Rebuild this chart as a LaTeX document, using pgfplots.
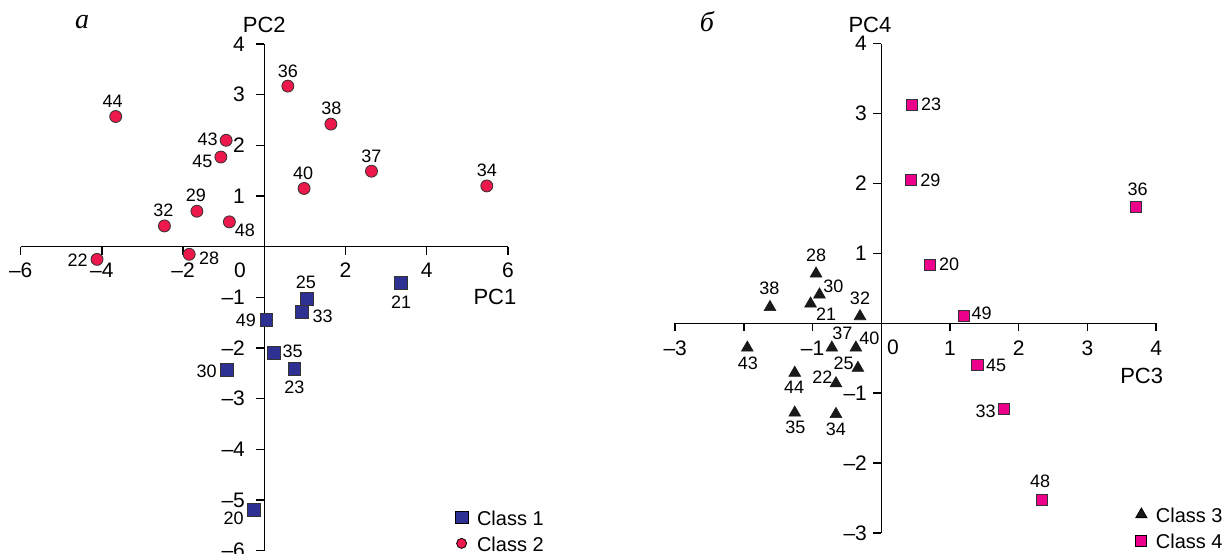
\documentclass[border=0pt]{standalone}
\usepackage{fontspec}
\setmainfont{Liberation Sans}
\newfontfamily\panelfont{Liberation Serif}
\usepackage{pgfplots}
\usepackage{pgfplotstable}
\pgfplotsset{compat=1.18}

\definecolor{cblue}{RGB}{46,49,146}
\definecolor{cred}{RGB}{237,24,75}
\definecolor{cmag}{RGB}{236,0,140}

% PC1/PC2 scores: x y label, label offset (pt)
\pgfplotstableread{
x y lbl dx dy
3.37 -0.71 21 0 -10
1.05 -1.03 25 -0.5 8.2
0.93 -1.28 33 10.3 -2.2
0.05 -1.45 49 -10.2 -0.3
0.24 -2.10 35 9.3 0.8
0.74 -2.41 23 0 -9.3
-0.93 -2.43 30 -10 -0.5
-0.25 -5.20 20 -10.3 -4.2
}\classone
\pgfplotstableread{
x y lbl dx dy
0.58 3.17 36 0 7.6
1.64 2.42 38 0.3 8
2.64 1.49 37 0 7.6
5.48 1.20 34 0 7.8
0.98 1.15 40 -0.5 7.8
-3.66 2.57 44 -1.5 7.6
-0.94 2.10 43 -9.3 0.5
-1.07 1.77 45 -9.2 -2
-1.66 0.70 29 -0.5 7.8
-2.46 0.41 32 -0.5 8
-0.86 0.49 48 7.8 -4.2
-4.12 -0.25 22 -9.7 -0.3
-1.85 -0.15 28 10 -2
}\classtwo
% PC3/PC4 scores
\pgfplotstableread{
x y lbl dx dy
-0.95 0.71 28 0 9
-0.90 0.41 30 7 4
-1.03 0.28 21 7.8 -5.2
-1.62 0.23 38 -0.3 9.3
-0.31 0.10 32 0 9
-1.95 -0.35 43 0.3 -7.7
-0.72 -0.35 37 5.3 7
-0.37 -0.35 40 6.8 4.8
-0.34 -0.64 25 -7.2 2.2
-0.66 -0.86 22 -6.8 3.2
-1.26 -0.71 44 -0.3 -7.2
-1.26 -1.28 35 0.3 -7.3
-0.66 -1.30 34 0 -7.5
}\classthree
\pgfplotstableread{
x y lbl dx dy
0.44 3.13 23 9.8 0
0.43 2.05 29 9.8 0
0.71 0.84 20 9.5 0
3.71 1.67 36 0.7 8.6
1.20 0.11 49 9 1.2
1.40 -0.59 45 9.3 -0.3
1.79 -1.22 33 -9.3 -1.3
2.34 -2.53 48 -1 9.5
}\classfour

\pgfplotsset{
  pca/.style={
    axis lines=middle, clip=false, anchor=origin,
    axis line style={line width=0.75pt, -},
    tick style={line width=0.75pt, black},
    major tick length=4pt, tick align=outside,
    ticklabel style={font=\fontsize{10.5}{12}\selectfont, inner sep=0pt},
    legend style={draw=none, fill=none, inner sep=0pt, column sep=3.5pt, row sep=3.1pt,
      font=\fontsize{10}{12.5}\selectfont,
      nodes={inner sep=1pt, text height=7.9pt, text depth=0pt}},
    legend cell align=left,
    legend image code/.code={\draw[##1] plot coordinates {(0pt,0pt)};},
  },
  ptlabels/.style={
    nodes near coords, point meta=explicit symbolic,
    visualization depends on={\thisrow{dx}\as\ldx},
    visualization depends on={\thisrow{dy}\as\ldy},
    every node near coord/.append style={anchor=center, inner sep=0pt,
      xshift=\ldx pt, yshift=\ldy pt, font=\fontsize{9}{10}\selectfont, black},
  },
}

\begin{document}
\begin{tikzpicture}
\path[use as bounding box] (0,0) rectangle (613.5pt,276.5pt);

% panel a: PC1 vs PC2
\begin{axis}[pca,
  at={(132.15pt,153.15pt)},
  x=20.3pt, y=25.33pt,
  xmin=-6, xmax=6, ymin=-6, ymax=4,
  xtick={-6,-4,-2,2,4,6}, xticklabels={–6,–4,–2,2,4,6},
  ytick={-6,-5,-4,-3,-2,-1,1,2,3,4}, yticklabels={–6,–5,–4,–3,–2,–1,1,2,3,4},
  xticklabel style={anchor=north, yshift=-4pt},
  yticklabel style={anchor=east, xshift=-5.5pt},
  legend style={at={(axis description cs:0.891,0.086)}, anchor=north west},
]
\addlegendimage{only marks, mark=square*, mark size=3.2pt, mark options={fill=cblue, draw=black, line width=0.4pt}}
\addlegendentry{Class 1}
\addlegendimage{only marks, mark=*, mark size=2.5pt, mark options={fill=cred, draw=black, line width=0.4pt}}
\addlegendentry{Class 2}
\addplot[only marks, mark=square*, mark size=3.2pt, mark options={fill=cblue, draw=black!80, line width=0.4pt}, ptlabels, forget plot]
  table[x=x, y=y, meta=lbl] {\classone};
\addplot[only marks, mark=*, mark size=3pt, mark options={fill=cred, draw=black!80, line width=0.4pt}, ptlabels, forget plot]
  table[x=x, y=y, meta=lbl] {\classtwo};
\node[font=\fontsize{11}{12}\selectfont] at (axis cs:0,4.377) {PC2};
\node[font=\fontsize{11}{12}\selectfont] at (axis cs:5.68,-0.99) {PC1};
\node[font=\fontsize{10.5}{12}\selectfont] at (axis cs:-0.60,-0.46) {0};
\node[font=\panelfont\itshape\fontsize{14}{16}\selectfont] at (axis cs:-4.49,4.44) {a};
\end{axis}

% panel b: PC3 vs PC4
\begin{axis}[pca,
  at={(440.65pt,114.85pt)},
  x=34.35pt, y=34.95pt,
  xmin=-3, xmax=4, ymin=-3, ymax=4,
  xtick={-3,-2,-1,1,2,3,4}, xticklabels={–3,,–1,1,2,3,4},
  ytick={-3,-2,-1,1,2,3,4}, yticklabels={–3,–2,–1,1,2,3,4},
  xticklabel style={anchor=north, yshift=-4.5pt},
  yticklabel style={anchor=east, xshift=-3pt},
  legend style={at={(axis description cs:0.957,0.059)}, anchor=north west},
]
\addlegendimage{only marks, mark=triangle*, mark size=3.2pt, mark options={fill=black!90, draw=black}}
\addlegendentry{Class 3}
\addlegendimage{only marks, mark=square*, mark size=2.75pt, mark options={fill=cmag, draw=black, line width=0.4pt}}
\addlegendentry{Class 4}
\addplot[only marks, mark=triangle*, mark size=3.4pt, mark options={fill=black!90, draw=black!90, line width=0.3pt}, ptlabels, forget plot]
  table[x=x, y=y, meta=lbl] {\classthree};
\addplot[only marks, mark=square*, mark size=2.8pt, mark options={fill=cmag, draw=black!80, line width=0.4pt}, ptlabels, forget plot]
  table[x=x, y=y, meta=lbl] {\classfour};
\node[font=\fontsize{11}{12}\selectfont] at (axis cs:-0.165,4.27) {PC4};
\node[font=\fontsize{11}{12}\selectfont] at (axis cs:3.79,-0.76) {PC3};
\node[font=\fontsize{10.5}{12}\selectfont] at (axis cs:0.17,-0.34) {0};
\node[font=\panelfont\itshape\fontsize{14}{16}\selectfont] at (axis cs:-2.54,4.31) {б};
\end{axis}
\end{tikzpicture}
\end{document}
